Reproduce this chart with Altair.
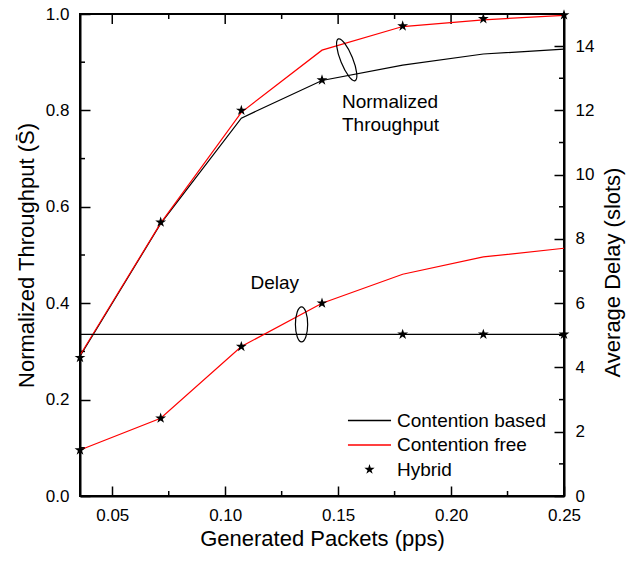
import altair as alt
import pandas as pd

# ---------------- data ----------------
packets = [1/28, 2/28, 3/28, 4/28, 5/28, 6/28, 7/28]
thr_contention_based = [0.290, 0.565, 0.784, 0.862, 0.894, 0.917, 0.927]
thr_contention_free = [0.292, 0.566, 0.796, 0.925, 0.974, 0.988, 0.997]
thr_hybrid = [0.287, 0.568, 0.800, 0.863, 0.975, 0.990, 0.998]
delay_contention_based = [5.03, 5.03, 5.03, 5.03, 5.03, 5.03, 5.03]
delay_contention_free = [1.43, 2.42, 4.65, 6.00, 6.90, 7.44, 7.71]
delay_hybrid = [1.43, 2.42, 4.65, 6.00, 5.03, 5.03, 5.03]

series_names = ["Contention based", "Contention free", "Hybrid"]
series_colors = ["#000000", "#ff0000", "#000000"]

x_major = [0.05, 0.10, 0.15, 0.20, 0.25]
x_minor = [0.075, 0.125, 0.175, 0.225]
yl_major = [0.0, 0.2, 0.4, 0.6, 0.8, 1.0]
yl_minor = [0.1, 0.3, 0.5, 0.7, 0.9]
yr_major = [0, 2, 4, 6, 8, 10, 12, 14]
yr_minor = [1, 3, 5, 7, 9, 11, 13]

# annotations (data coordinates)
thr_note = {"x": 0.1517, "v": 0.804, "text": "Normalized\nThroughput"}
thr_ellipse = {"x": 0.1538, "v": 0.905}
delay_note = {"x": 0.1112, "d": 6.44, "text": "Delay"}
delay_ellipse = {"x": 0.1338, "d": 5.34}

W, H = 484, 482
FONT = "Liberation Sans"

# glyphs
STAR = ("M0,-1L0.225,-0.309L0.951,-0.309L0.363,0.118L0.588,0.809L0,0.382"
        "L-0.588,0.809L-0.363,0.118L-0.951,-0.309L-0.225,-0.309Z")


def ellipse_path(rx):
    k = 0.5523
    return (f"M0,-1C{rx*k:.4f},-1,{rx:.4f},-{k},{rx:.4f},0"
            f"C{rx:.4f},{k},{rx*k:.4f},1,0,1"
            f"C{-rx*k:.4f},1,{-rx:.4f},{k},{-rx:.4f},0"
            f"C{-rx:.4f},-{k},{-rx*k:.4f},-1,0,-1Z")


LINE_GLYPH = "M-4,-0.12L4,-0.12L4,0.12L-4,0.12Z"
INWARD = {"expr": "-10"}

# ---------------- encodings ----------------
tick_axis = dict(ticks=True, tickSize=INWARD, tickWidth=1.5, tickColor="#000000",
                 labelFlush=False, grid=False)
X = alt.X("x:Q",
          scale=alt.Scale(domain=[1/28, 0.25], nice=False, zero=False),
          axis=alt.Axis(values=x_major, format=".2f", title="Generated Packets (pps)",
                        labelPadding=21, titlePadding=5, **tick_axis))
YL = alt.Y("v:Q",
           scale=alt.Scale(domain=[0, 1], nice=False),
           axis=alt.Axis(values=yl_major, format=".1f", title="Normalized Throughput (S\u0304)",
                         labelPadding=21, titlePadding=7, **tick_axis))
YR = alt.Y("d:Q",
           scale=alt.Scale(domain=[0, 15], nice=False),
           axis=alt.Axis(values=yr_major, format="d", title="Average Delay (slots)", orient="right",
                         labelPadding=21, titlePadding=9, titleAngle=270, titleBaseline="top",
                         titleY=258, **tick_axis))


def df_thr(vals):
    return pd.DataFrame({"x": packets, "v": vals})


def df_del(vals):
    return pd.DataFrame({"x": packets, "d": vals})


tick_style = dict(color="#000000", strokeWidth=1.5)
star_style = dict(shape=STAR, filled=True, color="#000000", size=130, opacity=1, strokeWidth=0)

# ---------------- left (throughput) group ----------------
l_cb = alt.Chart(df_thr(thr_contention_based)).mark_line(color="#000000", strokeWidth=1.2).encode(x=X, y=YL)
l_cf = alt.Chart(df_thr(thr_contention_free)).mark_line(color="#ff0000", strokeWidth=1.2).encode(x=X, y=YL)
l_hy = alt.Chart(df_thr(thr_hybrid)).mark_point(**star_style).encode(x=X, y=YL)

l_ell = alt.Chart(pd.DataFrame([thr_ellipse])).mark_point(
    shape=ellipse_path(0.27), filled=False, color="#000000", strokeWidth=1.2, size=2025, angle=338, opacity=1
).encode(x=X, y=YL)
l_txt = alt.Chart(pd.DataFrame([thr_note])).mark_text(
    align="left", baseline="alphabetic", font=FONT, fontSize=19, lineHeight=22.7, color="#000000", lineBreak="\n"
).encode(x=X, y=YL, text="text:N")

lt_minor = alt.Chart(pd.DataFrame({"v": yl_minor})).mark_rule(**tick_style).encode(y=YL, x=alt.value(0), x2=alt.value(5))
xb_minor = alt.Chart(pd.DataFrame({"x": x_minor})).mark_rule(**tick_style).encode(x=X, y=alt.value(H), y2=alt.value(H - 5))
xt_major = alt.Chart(pd.DataFrame({"x": x_major})).mark_rule(**tick_style).encode(x=X, y=alt.value(0), y2=alt.value(10))
xt_minor = alt.Chart(pd.DataFrame({"x": x_minor})).mark_rule(**tick_style).encode(x=X, y=alt.value(0), y2=alt.value(5))

legend_props = dict(orient="none", legendX=280, legendY=397, title=None,
                    symbolSize=116, labelFontSize=19, labelFont=FONT,
                    labelColor="#000000", labelOffset=18, rowPadding=4.5,
                    symbolStrokeWidth=0, symbolOpacity=1, padding=0)
legend_layer = alt.Chart(pd.DataFrame({"s": series_names})).mark_point(filled=True).encode(
    color=alt.Color("s:N", scale=alt.Scale(domain=series_names, range=series_colors),
                    legend=alt.Legend(**legend_props)),
    shape=alt.Shape("s:N", scale=alt.Scale(domain=series_names, range=[LINE_GLYPH, LINE_GLYPH, STAR]),
                    legend=alt.Legend(**legend_props)),
    size=alt.value(0),
)

left = alt.layer(lt_minor, xb_minor, xt_major, xt_minor,
                 l_cb, l_cf, l_hy, l_ell, l_txt, legend_layer)

# ---------------- right (delay) group ----------------
r_cb = alt.Chart(df_del(delay_contention_based)).mark_line(color="#000000", strokeWidth=1.2).encode(x=X, y=YR)
r_cf = alt.Chart(df_del(delay_contention_free)).mark_line(color="#ff0000", strokeWidth=1.2).encode(x=X, y=YR)
r_hy = alt.Chart(df_del(delay_hybrid)).mark_point(**star_style).encode(x=X, y=YR)
r_ell = alt.Chart(pd.DataFrame([delay_ellipse])).mark_point(
    shape=ellipse_path(0.35), filled=False, color="#000000", strokeWidth=1.2, size=1225, opacity=1
).encode(x=X, y=YR)
r_txt = alt.Chart(pd.DataFrame([delay_note])).mark_text(
    align="left", baseline="alphabetic", font=FONT, fontSize=19, color="#000000"
).encode(x=X, y=YR, text="text:N")
rt_minor = alt.Chart(pd.DataFrame({"d": yr_minor})).mark_rule(**tick_style).encode(y=YR, x=alt.value(W - 5), x2=alt.value(W))

right = alt.layer(rt_minor, r_cb, r_cf, r_hy, r_ell, r_txt)

chart = alt.layer(left, right).resolve_scale(y="independent").properties(
    width=W, height=H,
    autosize=alt.AutoSizeParams(type="none"),
    padding={"left": 72, "top": 6, "right": 69, "bottom": 57},
).configure_view(
    stroke="#000000", strokeWidth=2
).configure_axis(
    domainColor="#000000", domainWidth=2,
    labelColor="#000000", labelFont=FONT, labelFontSize=17,
    titleColor="#000000", titleFont=FONT, titleFontSize=22, titleFontWeight="normal",
)

chart.save("out.html", embed_options={"renderer": "svg", "actions": False})
